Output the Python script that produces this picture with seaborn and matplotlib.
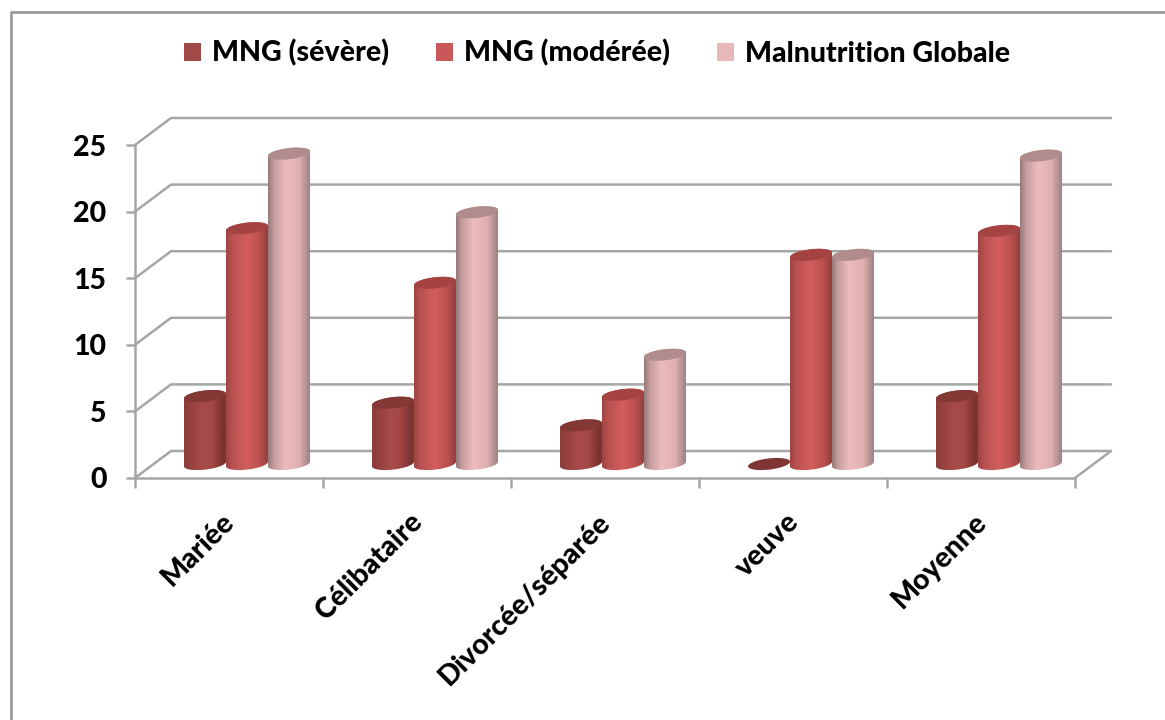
import numpy as np
import pandas as pd
import seaborn as sns
import matplotlib
matplotlib.use("Agg")
import matplotlib.pyplot as plt
from matplotlib.colors import LinearSegmentedColormap
from matplotlib.lines import Line2D
from matplotlib.patches import Patch, Polygon

# Chart values
statuts = ["Mariée", "Célibataire", "Divorcée/séparée", "veuve", "Moyenne"]
severe = [5.1, 4.6, 2.9, 0.0, 5.1]
moderee = [17.7, 13.6, 5.2, 15.7, 17.5]
globale = [23.3, 18.9, 8.2, 15.7, 23.15]
series = ["MNG (sévère)", "MNG (modérée)", "Malnutrition Globale"]
y_ticks = [0, 5, 10, 15, 20, 25]

legend_colors = ["#a24a48", "#c9585a", "#e6b8b7"]
cap_colors = ["#843836", "#a44341", "#b08c8c"]
body_stops = [
    [(0, "#8a3b39"), (.45, "#a84c4a"), (.7, "#a04644"), (.92, "#7c3431"), (1, "#7c3431")],
    [(0, "#a04442"), (.14, "#b85150"), (.5, "#d35e5c"), (.82, "#b84f4d"), (1, "#91403e")],
    [(0, "#94797a"), (.14, "#c69d9d"), (.42, "#ecbcbc"), (.75, "#e0b0b0"), (1, "#9e8182")],
]

sns.set_theme(style="white")
plt.rcParams["font.family"] = ["Lato", "DejaVu Sans"]
plt.rcParams["font.weight"] = 900

W, H = 1165, 720
TEXT_SIZE = 20.5
fig = plt.figure(figsize=(W / 100, H / 100), dpi=100, facecolor="white")


def axes_px(left, top, right, bottom):
    return fig.add_axes([left / W, 1 - bottom / H, (right - left) / W, (bottom - top) / H])


GRID = "#a6a6a6"
LW = 1.8

# Outer chart frame: only its top and left sides fall on the canvas
fig.add_artist(Line2D([10.5 / W, 10.5 / W, 1], [0, 1 - 11.5 / H, 1 - 11.5 / H],
                      transform=fig.transFigure, color="#9a9a9a", lw=2.0))

# Front plane carrying the value axis and the category ticks
ax = axes_px(135, 145, 1075, 478)
ax.set_facecolor("none")
ax.set_xlim(-0.5, 4.5)
ax.set_ylim(0, 25)
for side in ("top", "right"):
    ax.spines[side].set_visible(False)
for side in ("left", "bottom"):
    ax.spines[side].set_color(GRID)
    ax.spines[side].set_linewidth(LW)

# Depth of the floor and walls, in data units
dx = 36 / 188
dy = 27 / (333 / 25)
for v in y_ticks:
    ax.plot([-0.5, -0.5 + dx, 4.5 + dx], [v, v + dy, v + dy],
            color=GRID, lw=LW, clip_on=False, zorder=1, solid_capstyle="round")
ax.plot([4.5, 4.5 + dx], [0, dy], color=GRID, lw=LW, clip_on=False, zorder=1)

ax.set_yticks(y_ticks)
ax.set_yticklabels([str(v) for v in y_ticks])
ax.tick_params(axis="y", length=6.5, width=LW, color=GRID, pad=14, labelsize=TEXT_SIZE,
               left=True, labelcolor="black")
ax.set_xticks(np.arange(-0.5, 5.0, 1.0))
ax.set_xticklabels([])
ax.tick_params(axis="x", which="major", length=7, width=LW, color=GRID, bottom=True)
ax.set_xticks(np.arange(5) - 0.04, minor=True)
ax.set_xticklabels(statuts, minor=True, rotation=45, ha="right", va="top",
                   rotation_mode="anchor", fontsize=TEXT_SIZE, color="black")
ax.tick_params(axis="x", which="minor", length=0, pad=22, bottom=True)

# Cylinders stand half way into the depth of the floor
bars_ax = axes_px(135 + 18, 145 - 14, 1075 + 18, 478 - 14)
bars_ax.set_facecolor("none")

df = pd.DataFrame({
    "statut": statuts * 3,
    "serie": np.repeat(series, len(statuts)),
    "valeur": severe + moderee + globale,
})
sns.barplot(data=df, x="statut", y="valeur", hue="serie", hue_order=series, order=statuts,
            palette=legend_colors, width=0.67, gap=0, legend=False, errorbar=None,
            ax=bars_ax)

units_per_px = 25 / 333
b = 5.6 * units_per_px   # half height of a cylinder's end
tilt = 2.3 * units_per_px
t_low = np.linspace(0, -np.pi, 50)
t_high = np.linspace(np.pi, 0, 50)
t_full = np.linspace(0, 2 * np.pi, 80)

n = len(statuts)
for i, patch in enumerate(list(bars_ax.patches)):
    s = i // n
    x0, w, v = patch.get_x(), patch.get_width(), patch.get_height()
    patch.set_visible(False)
    a, cx = w / 2, x0 + w / 2
    z = 3 + s + (i % n) * 0.01
    if v > 0:
        xs = np.r_[cx + a * np.cos(t_low), cx + a * np.cos(t_high)]
        ys = np.r_[b * np.sin(t_low) + tilt * np.cos(t_low),
                   v + b * np.sin(t_high) + tilt * np.cos(t_high)]
        outline = Polygon(np.c_[xs, ys], closed=True, transform=bars_ax.transData,
                          fc="none", ec="none")
        bars_ax.add_patch(outline)
        cmap = LinearSegmentedColormap.from_list(f"c{s}", body_stops[s])
        im = bars_ax.imshow(np.linspace(0, 1, 128)[None, :], cmap=cmap, aspect="auto",
                            extent=(x0, x0 + w, -2 * b, v + 2 * b), zorder=z,
                            interpolation="bilinear")
        # The rounded foot of each cylinder dips below the axes box
        im.set_clip_box(fig.bbox)
        im.set_clip_path(outline)
    cap = np.c_[cx + a * np.cos(t_full), v + b * np.sin(t_full) + tilt * np.cos(t_full)]
    # A zero value leaves only the flat, darker disc on the floor
    cap_col = cap_colors[s] if v > 0 else "#7f3533"
    bars_ax.add_patch(Polygon(cap, closed=True, fc=cap_col, ec="none", zorder=z + 0.1,
                              clip_on=False))
bars_ax.set_xlim(-0.5, 4.5)
bars_ax.set_ylim(0, 25)
bars_ax.axis("off")

# Legend row along the top of the chart
handles = [Patch(fc=c, ec="none", label=l) for c, l in zip(legend_colors, series)]
fig.legend(handles=handles, loc="center", bbox_to_anchor=(597 / W, 1 - 53 / H), ncol=3,
           frameon=False, fontsize=TEXT_SIZE, handlelength=0.6, handleheight=0.6,
           handletextpad=0.36, columnspacing=1.67, labelcolor="black")

fig.savefig("out.png", dpi=100)
